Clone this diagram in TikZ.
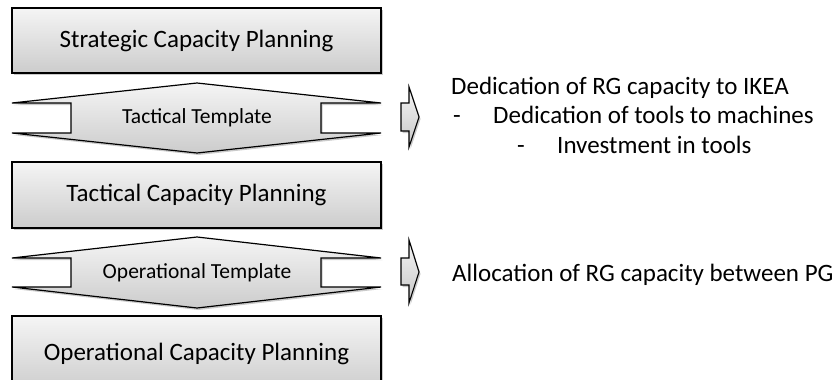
\documentclass[tikz,border=0pt]{standalone}
\usepackage{fontspec}
\setmainfont{Carlito}
\usetikzlibrary{shadows}
\begin{document}
\begin{tikzpicture}[x=1pt,y=-1pt,
  gfill/.style={top color=black!4, bottom color=black!20, draw=black, line width=1.2pt},
  shad/.style={drop shadow={shadow xshift=1.5pt, shadow yshift=-2pt, opacity=0.35, fill=black!60}},
  box/.style={gfill, shad, minimum width=369pt, inner sep=0pt, font=\fontsize{25}{30}\selectfont},
  tmpl/.style={font=\fontsize{21.5}{26}\selectfont, inner sep=0pt},
  side/.style={anchor=base west, inner sep=0pt, font=\fontsize{25}{30}\selectfont},
  smallarrow/.style={top color=black!4, bottom color=black!22, draw=black, line width=1.1pt, line join=miter, shad}
]
\useasboundingbox (0,0) rectangle (838,380);

% boxes
\node[box, minimum height=65pt] (strat) at (196.5,40.5) {Strategic Capacity Planning};
\node[box, minimum height=66pt] (tact) at (196.5,195) {Tactical Capacity Planning};
\node[box, minimum height=76pt] (oper) at (196.5,354) {Operational Capacity Planning};

% template shapes
\path[gfill, shad, line join=miter] (12,103) -- (197,83) -- (381,103) -- (321,103) -- (321,133) -- (381,133) -- (197,153) -- (12,133) -- (71,133) -- (71,103) -- cycle;
\node[tmpl] (tt) at (197,118) {Tactical Template};

\path[gfill, shad, line join=miter] (12,258) -- (197,237) -- (381,258) -- (321,258) -- (321,287) -- (381,287) -- (197,308) -- (12,287) -- (71,287) -- (71,258) -- cycle;
\node[tmpl] (ot) at (197,272.5) {Operational Template};

% small arrows
\path[smallarrow] (401,103) -- (409,103) -- (409,87) -- (419,117) -- (409,147) -- (409,131) -- (401,131) -- cycle;
\path[smallarrow] (401,258) -- (409,258) -- (409,240) -- (419,272) -- (409,303) -- (409,285) -- (401,285) -- cycle;

% side texts
\node[side] (d1) at (451,94) {Dedication of RG capacity to IKEA};
\node[side] (d2a) at (453,123) {-};
\node[side] (d2) at (493,123) {Dedication of tools to machines};
\node[side] (d3a) at (517,153) {-};
\node[side] (d3) at (557,153) {Investment in tools};
\node[side] (a1) at (452,281) {Allocation of RG capacity between PG};
\end{tikzpicture}
\end{document}
